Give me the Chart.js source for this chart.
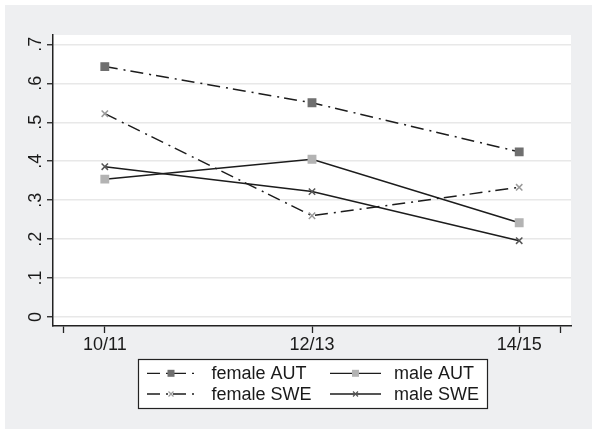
<!DOCTYPE html>
<html>
<head>
<meta charset="utf-8">
<script src="https://cdn.jsdelivr.net/npm/chart.js@4.4.0/dist/chart.umd.min.js"></script>
<style>
  html, body { margin: 0; padding: 0; background: #ffffff; }
  #wrap { position: absolute; left: 5px; top: 5px; width: 587px; height: 424px; }
</style>
</head>
<body>
<div id="wrap"><canvas id="chart"></canvas></div>
<script>
// Data
const periods = ['10/11', '12/13', '14/15'];
const femaleAUT = [0.643, 0.550, 0.424];
const maleAUT = [0.354, 0.405, 0.242];
const femaleSWE = [0.522, 0.260, 0.333];
const maleSWE = [0.386, 0.322, 0.196];
const yTicks = [0, 0.1, 0.2, 0.3, 0.4, 0.5, 0.6, 0.7];
const xTicks = [-0.2, 0, 1, 2, 2.2];

const lineColor = '#1c1c1c';
const dashDot = [13, 6, 2, 5];

function toPoints(arr) {
    return arr.map((v, i) => ({ x: i, y: v }));
}

const datasets = [
    { label: 'female AUT', data: toPoints(femaleAUT), borderDash: dashDot,
      pointStyle: 'rect', pointRadius: 5.2, pointBackgroundColor: '#6f6f6f', pointBorderColor: '#6f6f6f' },
    { label: 'male AUT', data: toPoints(maleAUT), borderDash: [],
      pointStyle: 'rect', pointRadius: 5.2, pointBackgroundColor: '#b3b3b3', pointBorderColor: '#b3b3b3' },
    { label: 'female SWE', data: toPoints(femaleSWE), borderDash: dashDot,
      pointStyle: 'crossRot', pointRadius: 4.5, pointBackgroundColor: '#9a9a9a', pointBorderColor: '#9a9a9a' },
    { label: 'male SWE', data: toPoints(maleSWE), borderDash: [],
      pointStyle: 'crossRot', pointRadius: 4.5, pointBackgroundColor: '#555555', pointBorderColor: '#555555' }
].map(d => Object.assign({
    borderColor: lineColor,
    borderWidth: 1.5,
    pointBorderWidth: 1.5,
    fill: false,
    tension: 0
}, d));

// Background: gray graph region + white plot region
const backgroundPlugin = {
    id: 'bg',
    beforeDraw(chart) {
        const ctx = chart.ctx;
        const a = chart.chartArea;
        ctx.save();
        ctx.fillStyle = '#eeeff1';
        ctx.fillRect(0, 0, chart.width, chart.height);
        ctx.fillStyle = '#ffffff';
        ctx.fillRect(a.left, a.top, a.right - a.left, a.bottom - a.top);
        ctx.restore();
    }
};

// Stata-style boxed legend, two columns
const legendPlugin = {
    id: 'boxLegend',
    afterDraw(chart) {
        const ctx = chart.ctx;
        const box = { x: 133.5, y: 354.5, w: 349, h: 49 };
        ctx.save();
        ctx.fillStyle = '#ffffff';
        ctx.fillRect(box.x, box.y, box.w, box.h);
        ctx.strokeStyle = '#222222';
        ctx.lineWidth = 1.2;
        ctx.strokeRect(box.x, box.y, box.w, box.h);

        const cols = [{ x1: 142, x2: 190, tx: 206.5 }, { x1: 325, x2: 376, tx: 389 }];
        const rows = [368.3, 389];
        chart.data.datasets.forEach((ds, i) => {
            const c = cols[i % 2];
            const y = rows[Math.floor(i / 2)];
            ctx.strokeStyle = ds.borderColor;
            ctx.lineWidth = 1.3;
            ctx.setLineDash(ds.borderDash);
            ctx.beginPath();
            ctx.moveTo(c.x1, y);
            ctx.lineTo(c.x2, y);
            ctx.stroke();
            ctx.setLineDash([]);
            const mx = (c.x1 + c.x2) / 2;
            ctx.fillStyle = ds.pointBackgroundColor;
            ctx.strokeStyle = ds.pointBorderColor;
            if (ds.pointStyle === 'rect') {
                ctx.fillRect(mx - 3.5, y - 3.5, 7, 7);
            } else {
                ctx.lineWidth = 1.2;
                ctx.beginPath();
                ctx.moveTo(mx - 2.5, y - 2.5); ctx.lineTo(mx + 2.5, y + 2.5);
                ctx.moveTo(mx - 2.5, y + 2.5); ctx.lineTo(mx + 2.5, y - 2.5);
                ctx.stroke();
            }
            ctx.fillStyle = '#1a1a1a';
            ctx.font = '18px "Liberation Sans", Arial, sans-serif';
            ctx.textBaseline = 'middle';
            ctx.textAlign = 'left';
            ctx.fillText(ds.label, c.tx, y + 1);
        });
        ctx.restore();
    }
};

const ctx = document.getElementById('chart').getContext('2d');
const chart = new Chart(ctx, {
    type: 'line',
    data: { datasets: datasets },
    plugins: [backgroundPlugin, legendPlugin],
    options: {
        responsive: true,
        maintainAspectRatio: false,
        animation: false,
        layout: { padding: { top: 30, right: 21, left: 0, bottom: 0 } },
        plugins: {
            legend: { display: false },
            tooltip: { enabled: false }
        },
        scales: {
            x: {
                type: 'linear',
                min: -0.25,
                max: 2.25,
                afterBuildTicks: function(scale) {
                    scale.ticks = xTicks.map(v => ({ value: v }));
                },
                afterFit: function(scale) { scale.height = 103; },
                grid: {
                    drawOnChartArea: false,
                    drawTicks: true,
                    tickLength: 7,
                    tickColor: '#222222',
                    tickWidth: 1.3
                },
                border: { display: true, color: '#222222', width: 1.5 },
                ticks: {
                    autoSkip: false,
                    maxRotation: 0,
                    padding: 1,
                    color: '#1a1a1a',
                    font: { family: '"Liberation Sans", Arial, sans-serif', size: 18 },
                    callback: function(value) {
                        return Number.isInteger(value) ? periods[value] : '';
                    }
                }
            },
            y: {
                min: -0.023,
                max: 0.724,
                afterBuildTicks: function(scale) {
                    scale.ticks = yTicks.map(v => ({ value: v }));
                },
                afterFit: function(scale) { scale.width = 48; },
                grid: {
                    color: '#e8e8e8',
                    lineWidth: 1.5,
                    drawTicks: true,
                    tickLength: 6,
                    tickColor: '#222222',
                    tickWidth: 1.3
                },
                border: { display: true, color: '#222222', width: 1.5 },
                ticks: {
                    minRotation: 90,
                    maxRotation: 90,
                    crossAlign: 'center',
                    padding: 3,
                    color: '#1a1a1a',
                    font: { family: '"Liberation Sans", Arial, sans-serif', size: 18 },
                    callback: function(value) {
                        if (Math.abs(value) < 1e-9) return '0';
                        return '.' + Math.round(value * 10);
                    }
                }
            }
        }
    }
});
</script>
</body>
</html>
